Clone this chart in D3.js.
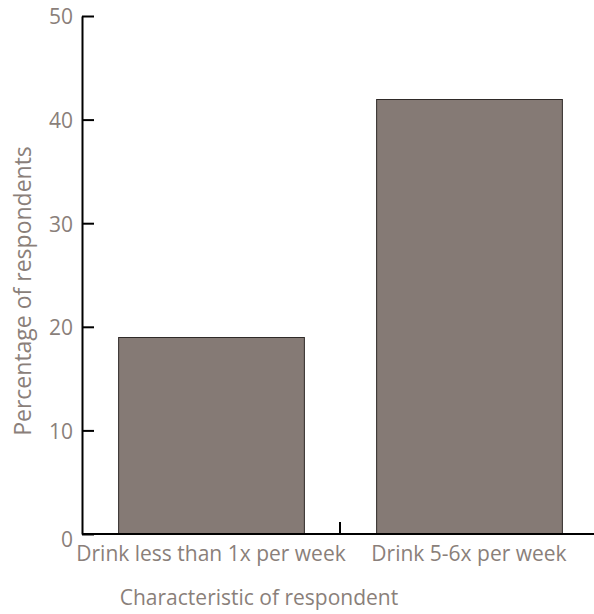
<!DOCTYPE html>
<html>
<head>
<meta charset="utf-8">
<script src="https://cdn.jsdelivr.net/npm/d3@7"></script>
<style>
  body { margin: 0; background: #fff; }
  svg { display: block; }
  svg text { font-family: "Open Sans", sans-serif; font-size: 21px; }
</style>
</head>
<body>
<div id="chart"></div>
<script>
// chart data
const categories = ["Drink less than 1x per week", "Drink 5-6x per week"];
const percentages = [19, 42];
const yTicks = [0, 10, 20, 30, 40, 50];

const width = 594;
const height = 614;
const margin = {top: 16, right: 0, bottom: 80, left: 82};
const textColor = "#8a7f7a";
const barColor = "#857a75";

const svg = d3.select("#chart").append("svg")
    .attr("width", width)
    .attr("height", height);

const x = d3.scaleBand()
    .domain(categories)
    .range([margin.left, 598])
    .paddingInner(0.28)
    .paddingOuter(0.14);

const y = d3.scaleLinear()
    .domain([0, 50])
    .range([height - margin.bottom, margin.top]);

// bars
svg.append("g")
    .selectAll("rect")
    .data(categories)
    .join("rect")
    .attr("x", d => x(d) + 0.5)
    .attr("y", (d, i) => Math.round(y(percentages[i])) + 0.5)
    .attr("width", x.bandwidth())
    .attr("height", (d, i) => y(0) - Math.round(y(percentages[i])))
    .attr("fill", barColor)
    .attr("stroke", "#2f2a28")
    .attr("stroke-width", 1);

// y axis, ticks point inward
const yAxis = svg.append("g")
    .attr("transform", `translate(${margin.left},0)`)
    .call(d3.axisLeft(y).tickValues(yTicks).tickSizeInner(-12).tickSizeOuter(0).tickPadding(9));

yAxis.attr("font-family", null).attr("font-size", null);
yAxis.select(".domain").attr("stroke", "#000").attr("stroke-width", 2);
yAxis.selectAll(".tick line").attr("stroke", "#000").attr("stroke-width", 2);
yAxis.selectAll(".tick text")
    .attr("fill", textColor)
    .attr("dy", d => d === 0 ? "0.6em" : "0.38em");

// x axis
const xAxis = svg.append("g")
    .attr("transform", `translate(0,${y(0)})`)
    .call(d3.axisBottom(x).tickSize(0).tickPadding(12));

xAxis.attr("font-family", null).attr("font-size", null);
xAxis.select(".domain")
    .attr("d", `M${margin.left},0H${width}`)
    .attr("stroke", "#000")
    .attr("stroke-width", 2);
xAxis.selectAll(".tick text")
    .attr("fill", textColor);

// separator tick between the two categories
const sepX = x(categories[1]) - x.step() * x.paddingInner() / 2;
xAxis.append("line")
    .attr("x1", sepX).attr("x2", sepX)
    .attr("y1", 0).attr("y2", -12)
    .attr("stroke", "#000")
    .attr("stroke-width", 2);

// axis titles
svg.append("text")
    .attr("transform", `translate(31,291) rotate(-90)`)
    .attr("text-anchor", "middle")
    .attr("fill", textColor)
    .style("font-size", "23px")
    .text("Percentage of respondents");

svg.append("text")
    .attr("x", 259)
    .attr("y", 605)
    .attr("text-anchor", "middle")
    .attr("fill", textColor)
    .text("Characteristic of respondent");
</script>
</body>
</html>
